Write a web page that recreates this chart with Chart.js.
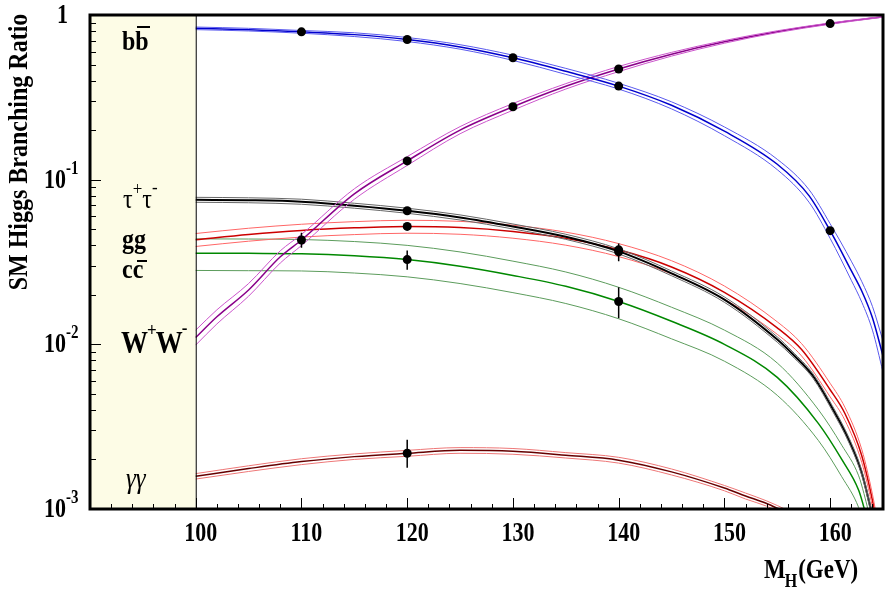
<!DOCTYPE html>
<html>
<head>
<meta charset="utf-8">
<script src="https://cdn.jsdelivr.net/npm/chart.js@4.4.1/dist/chart.umd.min.js"></script>
<style>
  html, body { margin: 0; padding: 0; background: #fff; }
  canvas { display: block; }
</style>
</head>
<body>
<canvas id="c" width="888" height="593"></canvas>
<script>
// ---- data (M_H in GeV, branching ratio) ----
var bbM  = [100, 105, 110, 115, 120, 125, 130, 135, 140, 145, 150, 155, 158, 160, 162, 163, 164, 165];
var bbC  = [0.83, 0.815, 0.79, 0.76, 0.71, 0.64, 0.55, 0.455, 0.37, 0.283, 0.197, 0.124, 0.08, 0.049, 0.028, 0.021, 0.0145, 0.0085];
var bbHi = [0.845, 0.83, 0.805, 0.78, 0.73, 0.66, 0.57, 0.474, 0.385, 0.297, 0.209, 0.133, 0.087, 0.054, 0.032, 0.024, 0.017, 0.0105];
var bbLo = [0.815, 0.80, 0.775, 0.74, 0.69, 0.62, 0.53, 0.436, 0.355, 0.269, 0.185, 0.115, 0.073, 0.044, 0.0245, 0.018, 0.0122, 0.0068];

var wwM  = [100, 102, 105, 108, 110, 115, 120, 125, 130, 135, 140, 145, 150, 155, 160, 165];
var wwC  = [0.011, 0.0147, 0.0214, 0.034, 0.043, 0.082, 0.13, 0.20, 0.277, 0.369, 0.47, 0.578, 0.687, 0.792, 0.887, 0.975];
var wwHi = [0.0122, 0.0162, 0.0234, 0.037, 0.0465, 0.088, 0.138, 0.21, 0.29, 0.383, 0.487, 0.593, 0.70, 0.802, 0.895, 0.98];
var wwLo = [0.0099, 0.0133, 0.0196, 0.0312, 0.0398, 0.076, 0.122, 0.19, 0.264, 0.355, 0.453, 0.563, 0.674, 0.782, 0.879, 0.97];

var tauM  = [100, 105, 110, 115, 120, 125, 130, 135, 140, 145, 150, 155, 156.4, 158.4, 160.2, 161.8, 163, 163.8, 164.2];
var tauC  = [0.0755, 0.075, 0.0735, 0.0695, 0.0648, 0.059, 0.052, 0.045, 0.0367, 0.027, 0.0187, 0.0107, 0.0088, 0.0064, 0.0041, 0.0026, 0.00165, 0.00103, 0.0008];
var tauHi = [0.0781, 0.0776, 0.0761, 0.0719, 0.0671, 0.0611, 0.0538, 0.0466, 0.038, 0.0279, 0.0194, 0.0111, 0.0091, 0.0066, 0.00424, 0.00269, 0.00171, 0.00107, 0.00083];
var tauLo = [0.0729, 0.0724, 0.0709, 0.0671, 0.0625, 0.0569, 0.0502, 0.0434, 0.0354, 0.0261, 0.018, 0.0103, 0.0085, 0.0062, 0.00396, 0.00251, 0.00159, 0.00099, 0.00077];

var ggM  = [100, 105, 110, 115, 120, 125, 130, 135, 140, 145, 150, 155, 157.3, 160, 161.4, 163, 164, 164.6];
var ggC  = [0.0432, 0.0465, 0.0492, 0.051, 0.052, 0.0512, 0.0485, 0.044, 0.0375, 0.0295, 0.0207, 0.0126, 0.0093, 0.0053, 0.0038, 0.0021, 0.00113, 0.0007];
var ggHi = [0.0471, 0.0507, 0.0536, 0.0556, 0.0567, 0.0558, 0.0529, 0.048, 0.0409, 0.0322, 0.0226, 0.0137, 0.0101, 0.0058, 0.00414, 0.00229, 0.00123, 0.00076];
var ggLo = [0.0393, 0.0423, 0.0448, 0.0464, 0.0473, 0.0466, 0.0441, 0.04, 0.0341, 0.0268, 0.0188, 0.0115, 0.0085, 0.0048, 0.00346, 0.00191, 0.00103, 0.00064];

var ccM  = [100, 105, 110, 115, 120, 125, 130, 135, 140, 145, 150, 155, 158.9, 161.1, 162.7, 163.2, 163.6];
var ccC  = [0.0358, 0.0357, 0.0355, 0.0345, 0.0327, 0.0298, 0.0262, 0.0225, 0.0182, 0.0138, 0.0100, 0.0063, 0.0033, 0.0020, 0.0013, 0.00102, 0.0008];
var ccHi = [0.0437, 0.0436, 0.0433, 0.0421, 0.0399, 0.0364, 0.032, 0.0275, 0.0222, 0.0168, 0.0122, 0.0077, 0.004, 0.00244, 0.00159, 0.00124, 0.00098];
var ccLo = [0.0281, 0.028, 0.0279, 0.0271, 0.0257, 0.0234, 0.0206, 0.0177, 0.0143, 0.0108, 0.0079, 0.0049, 0.0026, 0.00157, 0.00102, 0.0008, 0.00063];

var gamM  = [100, 105, 110, 115, 120, 125, 130, 135, 140, 145, 150, 152, 154, 155, 156];
var gamC  = [0.00158, 0.00176, 0.00194, 0.00208, 0.00218, 0.00227, 0.00224, 0.00212, 0.00198, 0.00168, 0.00134, 0.0012, 0.00108, 0.00101, 0.00094];
var gamHi = [0.00164, 0.00183, 0.00202, 0.00216, 0.00227, 0.00236, 0.00233, 0.0022, 0.00206, 0.00175, 0.00139, 0.00125, 0.00112, 0.00105, 0.00098];
var gamLo = [0.00152, 0.00169, 0.00186, 0.002, 0.00209, 0.00218, 0.00215, 0.00204, 0.0019, 0.00161, 0.00129, 0.00115, 0.00104, 0.00097, 0.0009];

// measured points (black dots)
var ptM = [110, 120, 130, 140, 160, 110, 120, 130, 140, 160, 120, 140, 120, 140, 120, 140, 120];
var ptY = [0.79, 0.71, 0.55, 0.37, 0.049, 0.043, 0.13, 0.277, 0.47, 0.887, 0.0648, 0.0365, 0.052, 0.0375, 0.0327, 0.0182, 0.00218];

// error bars
var errM  = [110, 120, 140, 140, 120];
var errLo = [0.0386, 0.0284, 0.0144, 0.032, 0.00178];
var errHi = [0.0476, 0.0371, 0.0222, 0.0409, 0.00263];

var xTicks = [100, 110, 120, 130, 140, 150, 160];
var yTicks = [1, 0.1, 0.01, 0.001];
var yTickExp = ['', '-1', '-2', '-3'];

var SERIF = '"Liberation Serif", "DejaVu Serif", serif';

function xy(ms, vs) {
    return ms.map(function (m, i) { return { x: m, y: vs[i] }; });
}

function line(ms, vs, color, width) {
    return {
        data: xy(ms, vs),
        borderColor: color,
        borderWidth: width,
        pointRadius: 0,
        fill: false,
        cubicInterpolationMode: 'monotone'
    };
}

function band(ms, lo, mid, hi, cMid, cEdge, wMid) {
    return [
        line(ms, lo, cEdge, 1),
        line(ms, hi, cEdge, 1),
        line(ms, mid, cMid, wMid)
    ];
}

var errData = [];
errM.forEach(function (m, i) {
    errData.push({ x: m, y: errLo[i] }, { x: m, y: errHi[i] }, { x: m, y: null });
});

var datasets = [
    {
        data: xy(ptM, ptY),
        showLine: false,
        pointRadius: 4.5,
        pointBackgroundColor: '#000',
        pointBorderColor: '#000',
        borderWidth: 0
    },
    {
        data: errData,
        borderColor: '#000',
        borderWidth: 1.5,
        pointRadius: 0,
        spanGaps: false
    }
].concat(
    band(bbM, bbLo, bbC, bbHi, '#0000cc', '#5a5aee', 1.5),
    band(wwM, wwLo, wwC, wwHi, '#8a008a', '#cc55cc', 1.5),
    band(tauM, tauLo, tauC, tauHi, '#000000', '#666666', 2),
    band(ggM, ggLo, ggC, ggHi, '#cc0000', '#ff6666', 1.5),
    band(ccM, ccLo, ccC, ccHi, '#008800', '#5c9c5c', 1.5),
    band(gamM, gamLo, gamC, gamHi, '#660000', '#ee7777', 1.5)
);

function txt(ctx, s, x, y, font, align, sy) {
    ctx.save();
    ctx.translate(x, y);
    ctx.scale(1, sy || 1);
    ctx.font = font;
    ctx.textAlign = align || 'left';
    ctx.textBaseline = 'alphabetic';
    ctx.fillStyle = '#000';
    ctx.fillText(s, 0, 0);
    ctx.restore();
}

// draws a run of [text, font, dy] pieces one after another, returns end x
function run(ctx, parts, x, y, sy) {
    parts.forEach(function (p) {
        ctx.font = p[1];
        txt(ctx, p[0], x, y + (p[2] || 0), p[1], 'left', sy);
        x += ctx.measureText(p[0]).width + (p[3] || 0);
    });
    return x;
}

function bar(ctx, x1, x2, y) {
    ctx.fillRect(x1, y, x2 - x1, 2);
}

var framePlugin = {
    id: 'frame',
    beforeDatasetsDraw: function (chart) {
        var ctx = chart.ctx, a = chart.chartArea, x = chart.scales.x;
        ctx.save();
        ctx.fillStyle = '#fdfce6';
        ctx.fillRect(a.left, a.top, x.getPixelForValue(100) - a.left, a.bottom - a.top);
        ctx.restore();
    },
    afterDraw: function (chart) {
        var ctx = chart.ctx, a = chart.chartArea, x = chart.scales.x, y = chart.scales.y;
        ctx.save();
        ctx.strokeStyle = '#000';
        ctx.fillStyle = '#000';

        // line at 100 GeV
        var x100 = x.getPixelForValue(100);
        ctx.lineWidth = 1;
        ctx.beginPath();
        ctx.moveTo(x100 + 0.5, a.top);
        ctx.lineTo(x100 + 0.5, a.bottom);
        ctx.stroke();

        // x ticks (inside)
        for (var m = 92; m <= 164; m += 2) {
            var px = Math.round(x.getPixelForValue(m)) + 0.5;
            var len = (m % 10 === 0) ? 11 : 5;
            ctx.beginPath();
            ctx.moveTo(px, a.bottom);
            ctx.lineTo(px, a.bottom - len);
            ctx.stroke();
        }
        // y ticks (inside)
        for (var e = -3; e < 0; e++) {
            for (var k = 1; k <= 9; k++) {
                var v = k * Math.pow(10, e);
                var py = Math.round(y.getPixelForValue(v)) + 0.5;
                var l2 = (k === 1) ? 11 : 6;
                ctx.beginPath();
                ctx.moveTo(a.left, py);
                ctx.lineTo(a.left + l2, py);
                ctx.stroke();
            }
        }

        // frame
        ctx.lineWidth = 3;
        ctx.strokeRect(a.left, a.top, a.right - a.left, a.bottom - a.top);

        // x tick labels
        var tf = 'bold 22px ' + SERIF;
        xTicks.forEach(function (t) {
            txt(ctx, String(t), x.getPixelForValue(t) + 5, a.bottom + 32, tf, 'center', 1.2);
        });
        // y tick labels
        yTicks.forEach(function (t, i) {
            var py = y.getPixelForValue(t);
            if (i === 0) {
                txt(ctx, '1', 68, py + 8, tf, 'right', 1.2);
            } else {
                txt(ctx, '10', 66, py + 8, tf, 'right', 1.2);
                txt(ctx, yTickExp[i], 66, py - 6, 'bold 15px ' + SERIF, 'left', 1.2);
            }
        });

        // axis titles
        ctx.save();
        ctx.translate(27, 152);
        ctx.rotate(-Math.PI / 2);
        ctx.scale(1.0, 1.15);
        ctx.font = 'bold 24px ' + SERIF;
        ctx.textAlign = 'center';
        ctx.fillText('SM Higgs Branching Ratio', 0, 0);
        ctx.restore();

        run(ctx, [['M', 'bold 23px ' + SERIF, 0, -1], ['H', 'bold 16px ' + SERIF, 9, 1], ['(GeV)', 'bold 23px ' + SERIF, 0]], 764, 578, 1.15);

        // channel labels in the band
        var lf = 'bold 24px ' + SERIF;
        txt(ctx, 'bb', 122, 50, lf, 'left', 1.15);
        bar(ctx, 137, 150, 26);

        var tau = '24px ' + SERIF, sup = '17px ' + SERIF;
        run(ctx, [['\u03c4', tau, 0], ['+', sup, -13], ['\u03c4', tau, 0], ['-', sup, -15]], 123, 208, 1.15);

        txt(ctx, 'gg', 122, 248, lf, 'left', 1.15);
        txt(ctx, 'cc', 122, 278, lf, 'left', 1.15);
        bar(ctx, 137, 147, 260);

        var wf = 'bold 27px ' + SERIF, wsup = 'bold 17px ' + SERIF;
        run(ctx, [['W', wf, 0, -1], ['+', wsup, -17, -1], ['W', wf, 0, -1], ['-', wsup, -19]], 121, 353, 1.15);

        txt(ctx, '\u03b3\u03b3', 126, 488, 'italic 25px ' + SERIF, 'left', 1.15);

        ctx.restore();
    }
};

new Chart(document.getElementById('c'), {
    type: 'line',
    data: { datasets: datasets },
    options: {
        responsive: false,
        animation: false,
        layout: { padding: { left: 90, right: 5, top: 15, bottom: 84 } },
        plugins: { legend: { display: false }, tooltip: { enabled: false } },
        scales: {
            x: { type: 'linear', min: 90, max: 165, display: false },
            y: { type: 'logarithmic', min: 0.001, max: 1, display: false }
        }
    },
    plugins: [framePlugin]
});
</script>
</body>
</html>
